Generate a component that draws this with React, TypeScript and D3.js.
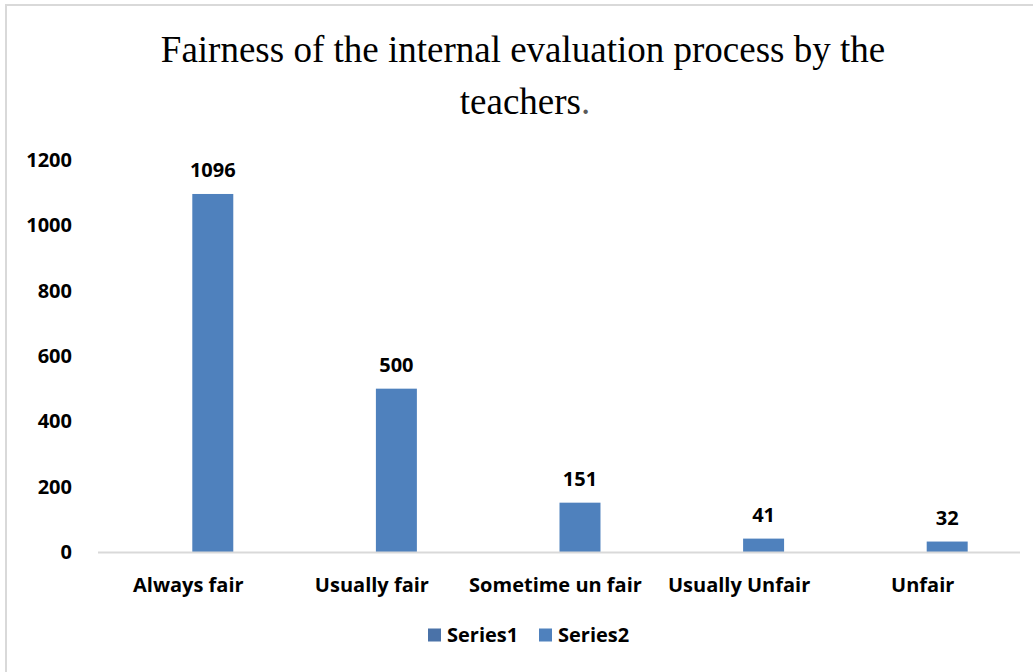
import { useEffect, useRef } from "react";
import * as d3 from "d3";

const categories = ["Always fair", "Usually fair", "Sometime un fair", "Usually Unfair", "Unfair"];
const seriesNames = ["Series1", "Series2"];
const series1Values = [0, 0, 0, 0, 0];
const series2Values = [1096, 500, 151, 41, 32];
const yTicks = [0, 200, 400, 600, 800, 1000, 1200];

const seriesColors: Record<string, string> = { Series1: "#4A72A8", Series2: "#4F81BD" };
const labelFont = "'Open Sans', Lato, sans-serif";

export default function App() {
  const svgRef = useRef<SVGSVGElement | null>(null);

  useEffect(() => {
    const svgElement = svgRef.current;
    if (!svgElement) return;
    const svg = d3.select(svgElement);
    svg.selectAll("*").remove();

    const width = 1033;
    const height = 672;

    svg.append("rect").attr("width", width).attr("height", height).attr("fill", "#fff");

    // chart frame (only top/left edges visible)
    svg
      .append("rect")
      .attr("x", 6)
      .attr("y", 5)
      .attr("width", width + 20)
      .attr("height", height + 20)
      .attr("fill", "none")
      .attr("stroke", "#D9D9D9")
      .attr("stroke-width", 2);

    // title
    const title = svg
      .append("text")
      .attr("text-anchor", "middle")
      .attr("font-family", "'Liberation Serif', 'Times New Roman', serif")
      .attr("font-size", 37)
      .attr("fill", "#000");
    title.append("tspan").attr("x", 523).attr("y", 62).text("Fairness of the internal evaluation process by the");
    const line2 = title.append("tspan").attr("x", 525).attr("y", 114);
    line2.append("tspan").text("teachers");
    line2.append("tspan").attr("fill", "#595959").text(".");

    const x = d3.scaleBand<string>().domain(categories).range([100.5, 1018.5]);
    const xInner = d3
      .scaleBand<string>()
      .domain(seriesNames)
      .range([0, x.bandwidth()])
      .paddingOuter(1.24);
    const y = d3.scaleLinear().domain([0, 1200]).range([552, 160]);

    const rows = categories.map((c, i) => ({
      category: c,
      Series1: series1Values[i],
      Series2: series2Values[i],
    }));

    const boldText = (sel: any) =>
      sel
        .attr("font-family", labelFont)
        .attr("font-weight", "bold")
        .attr("font-size", 20)
        .attr("fill", "#000");

    // y tick labels
    svg
      .append("g")
      .selectAll("text")
      .data(yTicks)
      .join("text")
      .attr("x", 72)
      .attr("y", (d) => y(d))
      .attr("dy", "0.35em")
      .attr("text-anchor", "end")
      .call(boldText)
      .text((d) => d);

    // bars
    seriesNames.forEach((name) => {
      svg
        .append("g")
        .selectAll("rect")
        .data(rows)
        .join("rect")
        .attr("x", (d) => (x(d.category) ?? 0) + (xInner(name) ?? 0))
        .attr("y", (d) => y((d as any)[name]))
        .attr("width", xInner.bandwidth())
        .attr("height", (d) => y(0) - y((d as any)[name]))
        .attr("fill", seriesColors[name]);
    });

    // data labels for Series2
    svg
      .append("g")
      .selectAll("text")
      .data(rows)
      .join("text")
      .attr("x", (d) => (x(d.category) ?? 0) + (xInner("Series2") ?? 0) + xInner.bandwidth() / 2)
      .attr("y", (d) => y(d.Series2) - 24)
      .attr("dy", "0.35em")
      .attr("text-anchor", "middle")
      .call(boldText)
      .text((d) => d.Series2);

    // x axis line
    svg
      .append("line")
      .attr("x1", 98)
      .attr("x2", 1020)
      .attr("y1", y(0) + 0.5)
      .attr("y2", y(0) + 0.5)
      .attr("stroke", "#D9D9D9")
      .attr("stroke-width", 2);

    // category labels
    svg
      .append("g")
      .selectAll("text")
      .data(categories)
      .join("text")
      .attr("x", (d) => (x(d) ?? 0) + x.bandwidth() / 2 - 4)
      .attr("y", 585)
      .attr("dy", "0.35em")
      .attr("text-anchor", "middle")
      .call(boldText)
      .text((d) => d);

    // legend
    const legendX = [428, 539];
    seriesNames.forEach((name, i) => {
      const g = svg.append("g").attr("transform", `translate(${legendX[i]},635)`);
      g.append("rect").attr("x", 0).attr("y", -6.5).attr("width", 13).attr("height", 13).attr("fill", seriesColors[name]);
      g.append("text")
        .attr("x", 19)
        .attr("y", 0)
        .attr("dy", "0.35em")
        .call(boldText)
        .text(name);
    });
  }, []);

  return (
    <svg
      ref={svgRef}
      width={1033}
      height={672}
      style={{ position: "absolute", left: 0, top: 0, display: "block" }}
    />
  );
}
